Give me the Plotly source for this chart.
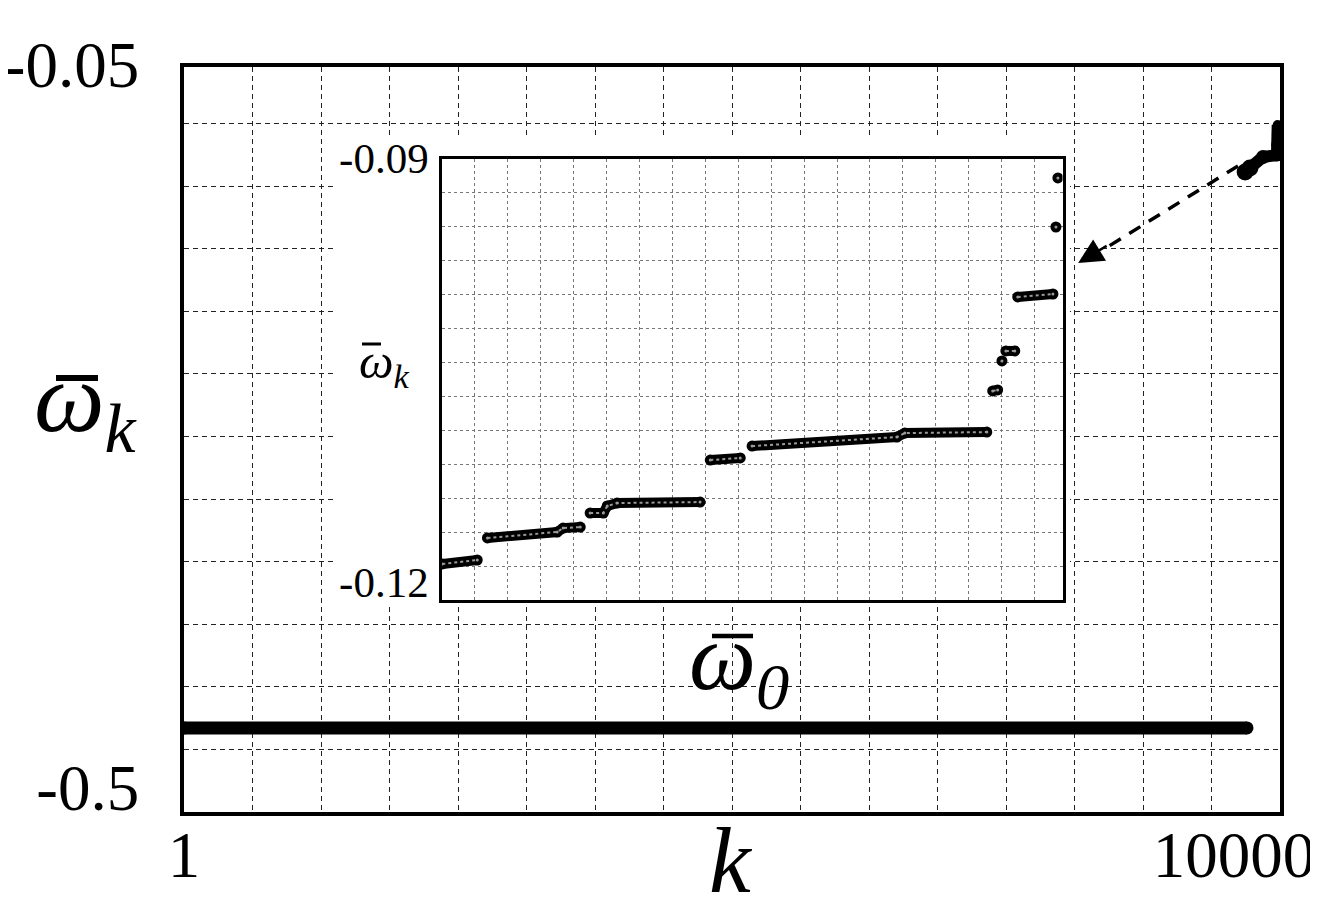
import plotly.graph_objects as go

FONT = "Liberation Serif"

# ---- main plot data (k vs omega_k) ----
main_k = [1, 10123]
main_w = [-0.4614, -0.4614]

cluster_k = [10105, 10151, 10275, 10408, 10410, 10412, 10415]
cluster_w = [-0.1153, -0.1128, -0.1060, -0.1048, -0.0986, -0.0923, -0.0861]

# ---- inset data (omega_0 grid units vs omega_k), None separates plateaus ----
inset_w0 = [0.01, 1.07, None,
            1.38, 3.50, 3.68, 4.20, None,
            4.50, 4.90, 5.02, 5.32, 7.84, None,
            8.15, 9.06, None,
            9.42, 13.82, 14.06, 16.55, None,
            16.73, 16.88, None,
            17.01, None,
            17.13, 17.40, None,
            17.49, 18.56, None,
            18.65, None,
            18.71]
inset_wk = [-0.11865, -0.11837, None,
            -0.11681, -0.11639, -0.11611, -0.11604, None,
            -0.11505, -0.11505, -0.11455, -0.11434, -0.11427, None,
            -0.11130, -0.11115, None,
            -0.11031, -0.10967, -0.10939, -0.10932, None,
            -0.10641, -0.10634, None,
            -0.10429, None,
            -0.10358, -0.10358, None,
            -0.09976, -0.09955, None,
            -0.09481, None,
            -0.09134]

main_xticks = [1, 10000]
main_yticks = [-0.05, -0.5]
inset_yticks = [-0.09, -0.12]

# white backing behind the inset, in main-axis coordinates
backing_k = [1439, 8437, 8437, 1439, 1439]
backing_w = [-0.3842, -0.3842, -0.0923, -0.0923, -0.3842]

# ---- layout geometry (page has an 8px body margin) ----
W, H = 1318, 900
L, R, T, B = 176, 46, 59, 96
PW, PH = W - L - R, H - T - B
OFF = 8


def px(X):  # reference pixel x -> paper x
    return (X - OFF - L) / PW


def py(Y):  # reference pixel y -> paper y
    return (H - B - (Y - OFF)) / PH


fig = go.Figure()

fig.add_trace(go.Scatter(x=backing_k, y=backing_w, mode="lines", fill="toself",
                         fillcolor="white", line=dict(width=0, color="white"),
                         hoverinfo="skip", showlegend=False, xaxis="x", yaxis="y"))

fig.add_trace(go.Scatter(x=main_k, y=main_w, mode="lines+markers",
                         line=dict(color="black", width=13),
                         marker=dict(color="black", size=13, line=dict(width=0)),
                         showlegend=False, xaxis="x", yaxis="y"))
fig.add_trace(go.Scatter(x=cluster_k, y=cluster_w, mode="lines+markers",
                         line=dict(color="black", width=12),
                         marker=dict(color="black", size=[17, 17, 14, 13, 12, 11, 10],
                                     line=dict(width=0), opacity=1),
                         showlegend=False, xaxis="x", yaxis="y"))

fig.add_trace(go.Scatter(x=inset_w0, y=inset_wk, mode="lines+markers",
                         line=dict(color="black", width=10),
                         marker=dict(color="black", size=11, line=dict(width=0)),
                         connectgaps=False, showlegend=False,
                         xaxis="x2", yaxis="y2"))
fig.add_trace(go.Scatter(x=inset_w0, y=inset_wk, mode="lines+markers",
                         line=dict(color="#9a9a9a", width=2, dash="dot"),
                         marker=dict(color="#9a9a9a", size=3, line=dict(width=0)),
                         connectgaps=False, showlegend=False,
                         xaxis="x2", yaxis="y2"))

grid_main = dict(showgrid=True, gridcolor="#222", griddash="5px,4px", gridwidth=1)
grid_inset = dict(showgrid=True, gridcolor="#777", griddash="3px,3px", gridwidth=1)

fig.update_layout(
    width=W, height=H,
    margin=dict(l=L, r=R, t=T, b=B, autoexpand=False),
    paper_bgcolor="white", plot_bgcolor="white",
    font=dict(family=FONT, color="black"),
    xaxis=dict(range=[1, 10437], tickvals=main_xticks, ticktext=["1", "10000"],
               ticks="", showline=True, linewidth=3.5, linecolor="black", mirror=True,
               tickfont=dict(size=65, family=FONT), ticklabelstandoff=-17,
               showgrid=False, zeroline=False, automargin=False,
               minor=dict(tick0=1, dtick=652.25, **grid_main)),
    yaxis=dict(range=[-0.5137, -0.05], tickvals=main_yticks, ticktext=["-0.05", "-0.5"],
               ticks="", showline=True, linewidth=3.5, linecolor="black", mirror=True,
               tickfont=dict(size=65, family=FONT), ticklabelstandoff=28,
               ticklabelshift=-3,
               showgrid=False, zeroline=False, automargin=False,
               minor=dict(tick0=-0.5137, dtick=0.03896, **grid_main)),
    xaxis2=dict(domain=[px(442), px(1062.5)], anchor="y2", range=[0, 18.85],
                showticklabels=False, ticks="", tick0=0, dtick=1,
                showline=True, linewidth=2.5, linecolor="black", mirror=True,
                zeroline=False, automargin=False, **grid_inset),
    yaxis2=dict(domain=[py(600), py(159)], anchor="x2", range=[-0.1212, -0.09],
                tickvals=inset_yticks, ticktext=["-0.09", "-0.12"], ticks="",
                tickfont=dict(size=43, family=FONT), ticklabelstandoff=2,
                ticklabelshift=-1,
                showline=True, linewidth=2.5, linecolor="black", mirror=True,
                showgrid=False, zeroline=False, automargin=False,
                minor=dict(tick0=-0.09, dtick=0.0024, **grid_inset)),
)

# dashed pointer from the cluster to the inset
fig.add_shape(type="line", xref="x", yref="y", x0=10037, y0=-0.1116, x1=8790, y1=-0.1622,
              line=dict(color="black", width=3.5, dash="13px,10px"))
fig.add_annotation(x=8515, y=-0.1720, xref="x", yref="y", ax=30, ay=-18,
                   text="", showarrow=True,
                   arrowhead=2, arrowsize=2, arrowwidth=2.5, arrowcolor="black")

# axis titles (horizontal, so drawn as annotations)
fig.add_annotation(text="<i>ω<sub>k</sub></i>", xref="paper", yref="paper",
                   x=px(86), y=py(404), xanchor="center", yanchor="middle",
                   showarrow=False, font=dict(size=100, family=FONT))
fig.add_annotation(text="<i>k</i>", xref="paper", yref="paper",
                   x=px(731), y=py(860), xanchor="center", yanchor="middle",
                   showarrow=False, font=dict(size=94, family=FONT))
fig.add_annotation(text="<i>ω<sub>k</sub></i>", xref="paper", yref="paper",
                   x=px(384), y=py(364), xanchor="center", yanchor="middle",
                   showarrow=False, font=dict(size=49, family=FONT))
fig.add_annotation(text="<i>ω<sub>0</sub></i>", xref="paper", yref="paper",
                   x=px(739), y=py(663), xanchor="center", yanchor="middle",
                   showarrow=False, font=dict(size=95, family=FONT))

# overbars of the omega symbols
for x0, x1, yb, w in [(56, 98, 378, 6), (362, 381, 344, 3), (712, 753, 636, 4.5)]:
    fig.add_shape(type="line", xref="paper", yref="paper",
                  x0=px(x0), x1=px(x1), y0=py(yb), y1=py(yb),
                  line=dict(color="black", width=w))

fig.write_html("out.html")
